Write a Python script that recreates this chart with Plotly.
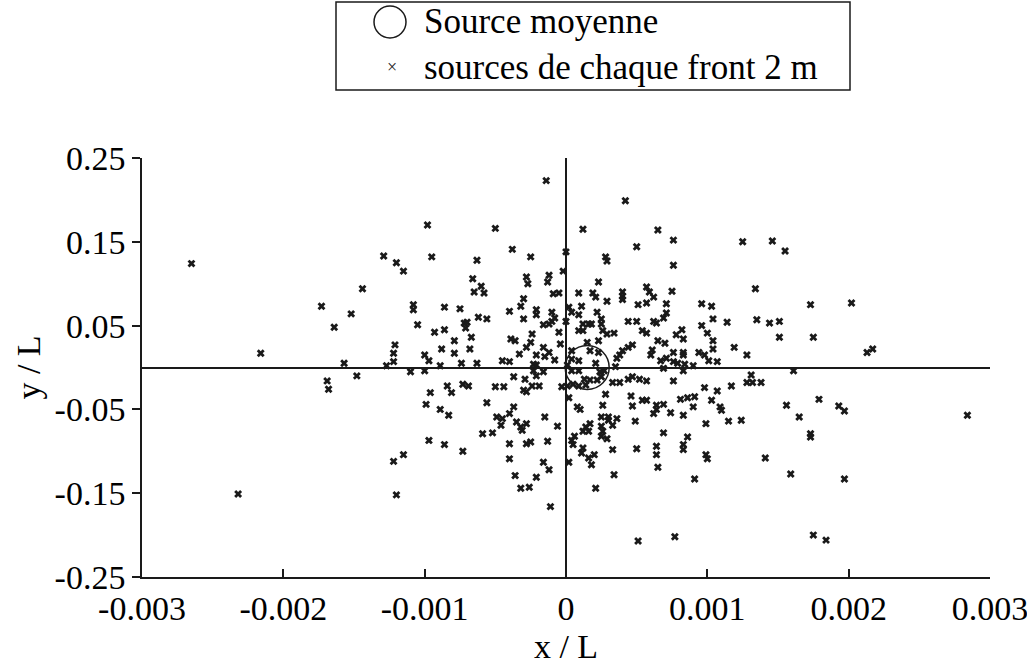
import plotly.graph_objects as go

# Individual source positions (x/L, y/L)
src_x = [
    -0.00265, -0.00173, -0.00152, -0.00164, -0.00216, -0.00157, -0.00169, -0.00168, -0.00232,
    -0.00014, -0.00098, -0.00050, -0.00038, -0.00129, -0.00120, -0.00115, -0.00095, -0.00063,
    -0.00025, -0.00144, -0.00066, -0.00060, -0.00065, -0.00058, -0.00028, -0.00027, -0.00012,
    -0.00013, -0.00009, -0.00005, -0.00002,
    0.00042, 0.00012, 0.00065, 0.00076, 0.00050, 0.00125, 0.00146, 0.00000, 0.00028, 0.00029,
    0.00076, 0.00023, 0.00009, 0.00019, 0.00040, 0.00057, 0.00059, 0.00075, 0.00134, 0.00155,
    0.00284, 0.00173, 0.00202, 0.00151, 0.00151, 0.00175, 0.00213, 0.00217, 0.00161, 0.00179,
    0.00156, 0.00193, 0.00197, 0.00165, 0.00173,
    -0.00030, -0.00108, -0.00108, -0.00086, -0.00075, -0.00032, -0.00040, -0.00021, -0.00021,
    -0.00010, -0.00030, -0.00062, -0.00056, -0.00072, -0.00070, -0.00071, -0.00010, -0.00008,
    -0.00012, -0.00016, -0.00105, -0.00093, -0.00086, -0.00005, -0.00024, -0.00067, -0.00039,
    -0.00036, -0.00079, -0.00025, -0.00121, -0.00028, -0.00016, -0.00004, -0.00088, -0.00068,
    -0.00122, -0.00079, -0.00033, -0.00021, -0.00012, -0.00015, -0.00100, -0.00097, -0.00008,
    -0.00122, -0.00074, -0.00063, -0.00045, -0.00040, -0.00023, -0.00021, -0.00127, -0.00089,
    -0.00148, -0.00110, -0.00100, -0.00023, -0.00016, -0.00021, -0.00037, -0.00029, -0.00003,
    -0.00084, -0.00073, -0.00069, -0.00050, -0.00044, -0.00024, -0.00019, -0.00030, -0.00028,
    -0.00096, -0.00081, -0.00056, -0.00099, -0.00037, -0.00089, -0.00083, -0.00040, -0.00049,
    -0.00045, -0.00046, -0.00015, -0.00035, -0.00032, -0.00028, -0.00031, -0.00006, -0.00059,
    -0.00052,
    -0.00097, -0.00086, -0.00073, -0.00115, -0.00122, -0.00040, -0.00028, -0.00025, -0.00013,
    -0.00040, -0.00016, -0.00012, -0.00036, -0.00021, -0.00032, -0.00026, -0.00120, -0.00011,
    0.00012, 0.00016, 0.00026, 0.00004, 0.00006, 0.00005, 0.00025, 0.00029, 0.00069, 0.00086,
    0.00012, 0.00011, 0.00016, 0.00020, 0.00002, 0.00033, 0.00050, 0.00064, 0.00064, 0.00083,
    0.00083, 0.00099, 0.00100, 0.00141, 0.00018, 0.00065, 0.00034, 0.00091, 0.00021, 0.00051,
    0.00077,
    0.00173, 0.00159, 0.00197, 0.00175, 0.00184,
    0.00021, 0.00040, 0.00040, 0.00062, 0.00029, 0.00051, 0.00057, 0.00071, 0.00096, 0.00103,
    0.00002, 0.00004, 0.00011, 0.00009, 0.00022, 0.00000, 0.00012, 0.00016, 0.00018, 0.00025,
    0.00025, 0.00044, 0.00050, 0.00062, 0.00064, 0.00069, 0.00071, 0.00104, 0.00114, 0.00135,
    0.00144, 0.00009, 0.00012, 0.00026, 0.00029, 0.00034, 0.00054, 0.00057, 0.00082, 0.00078,
    0.00096, 0.00100, 0.00083, 0.00104, 0.00015, 0.00023, 0.00065, 0.00070, 0.00004, 0.00017,
    0.00023, 0.00044, 0.00047, 0.00040, 0.00038, 0.00036, 0.00061, 0.00060, 0.00076, 0.00083,
    0.00083, 0.00094, 0.00098, 0.00104, 0.00119, 0.00128, 0.00004, 0.00001, 0.00009, 0.00021,
    0.00067, 0.00071, 0.00076, 0.00079, 0.00084, 0.00069, 0.00090, 0.00101, 0.00107, 0.00035,
    0.00004, 0.00009, 0.00024, 0.00027, 0.00083, 0.00001, 0.00005, 0.00013, 0.00017, 0.00022,
    0.00025, 0.00014, 0.00009, 0.00033, 0.00038, 0.00044, 0.00047, 0.00052, 0.00057, 0.00076,
    0.00131, 0.00128, 0.00132, 0.00138, 0.00117, 0.00098, 0.00107, 0.00028, 0.00046, 0.00054,
    0.00057, 0.00081, 0.00086, 0.00091, 0.00103, 0.00002, 0.00026, 0.00047, 0.00064, 0.00069,
    0.00064, 0.00062, 0.00090, 0.00109, 0.00110, 0.00008, 0.00010, 0.00074, 0.00083, 0.00025,
    0.00030, 0.00030, 0.00036, 0.00049, 0.00099, 0.00115, 0.00124, 0.00017, 0.00014, 0.00025,
    0.00033,
]
src_y = [
    0.124, 0.073, 0.064, 0.048, 0.017, 0.005, -0.016, -0.026, -0.151,
    0.223, 0.170, 0.166, 0.141, 0.133, 0.125, 0.115, 0.132, 0.128,
    0.132, 0.094, 0.106, 0.097, 0.090, 0.089, 0.108, 0.100, 0.110,
    0.102, 0.088, 0.089, 0.115,
    0.199, 0.165, 0.164, 0.152, 0.144, 0.150, 0.151, 0.138, 0.132, 0.127,
    0.122, 0.102, 0.089, 0.089, 0.090, 0.096, 0.090, 0.091, 0.094, 0.139,
    -0.057, 0.075, 0.077, 0.055, 0.036, 0.036, 0.018, 0.022, -0.004, -0.038,
    -0.045, -0.046, -0.052, -0.059, -0.079,
    0.082, 0.075, 0.069, 0.072, 0.070, 0.073, 0.067, 0.069, 0.063,
    0.066, 0.058, 0.060, 0.058, 0.053, 0.054, 0.047, 0.055, 0.059,
    0.052, 0.051, 0.051, 0.042, 0.045, 0.042, 0.040, 0.036, 0.034,
    0.032, 0.032, 0.030, 0.027, 0.024, 0.024, 0.028, 0.022, 0.022,
    0.017, 0.017, 0.016, 0.015, 0.018, 0.013, 0.015, 0.008, 0.009,
    0.007, 0.005, 0.005, 0.008, 0.007, 0.004, 0.003, 0.002, 0.002,
    -0.010, -0.005, -0.004, -0.004, -0.005, -0.010, -0.011, -0.014, -0.023,
    -0.022, -0.020, -0.022, -0.023, -0.023, -0.022, -0.022, -0.027, -0.029,
    -0.030, -0.030, -0.042, -0.044, -0.047, -0.050, -0.057, -0.055, -0.059,
    -0.061, -0.069, -0.059, -0.065, -0.071, -0.067, -0.075, -0.070, -0.079,
    -0.078,
    -0.087, -0.092, -0.100, -0.104, -0.112, -0.091, -0.091, -0.089, -0.088,
    -0.109, -0.113, -0.122, -0.129, -0.131, -0.144, -0.143, -0.152, -0.166,
    -0.076, -0.076, -0.076, -0.087, -0.082, -0.092, -0.082, -0.085, -0.078, -0.083,
    -0.096, -0.102, -0.108, -0.104, -0.113, -0.098, -0.097, -0.094, -0.104, -0.092,
    -0.098, -0.104, -0.109, -0.108, -0.116, -0.119, -0.128, -0.133, -0.144, -0.207,
    -0.202,
    -0.083, -0.127, -0.133, -0.200, -0.206,
    0.084, 0.085, 0.081, 0.084, 0.079, 0.075, 0.077, 0.076, 0.076, 0.073,
    0.072, 0.066, 0.073, 0.063, 0.066, 0.055, 0.052, 0.052, 0.052, 0.058,
    0.052, 0.055, 0.055, 0.055, 0.053, 0.059, 0.065, 0.058, 0.054, 0.057,
    0.053, 0.044, 0.044, 0.044, 0.040, 0.041, 0.044, 0.041, 0.045, 0.039,
    0.050, 0.041, 0.034, 0.032, 0.030, 0.032, 0.032, 0.029, 0.020, 0.020,
    0.018, 0.024, 0.027, 0.020, 0.015, 0.011, 0.021, 0.015, 0.018, 0.018,
    0.015, 0.018, 0.015, 0.022, 0.024, 0.015, 0.010, 0.003, 0.008, 0.005,
    0.008, 0.011, 0.007, 0.005, 0.004, -0.001, 0.002, 0.008, 0.007, 0.001,
    -0.004, -0.004, -0.005, -0.004, -0.004, -0.022, -0.020, -0.014, -0.015, -0.015,
    -0.011, -0.021, -0.022, -0.018, -0.018, -0.014, -0.011, -0.014, -0.016, -0.016,
    -0.009, -0.018, -0.018, -0.018, -0.022, -0.024, -0.028, -0.032, -0.034, -0.039,
    -0.039, -0.038, -0.036, -0.035, -0.039, -0.036, -0.045, -0.046, -0.045, -0.044,
    -0.050, -0.055, -0.047, -0.047, -0.051, -0.047, -0.050, -0.054, -0.057, -0.059,
    -0.059, -0.063, -0.061, -0.064, -0.067, -0.064, -0.063, -0.067, -0.071, -0.070,
    -0.069,
]

# Mean source position
mean_x = [0.00015]
mean_y = [0.0]

x_ticks = [-0.003, -0.002, -0.001, 0, 0.001, 0.002, 0.003]
x_ticktext = ["-0.003", "-0.002", "-0.001", "0", "0.001", "0.002", "0.003"]
y_ticks = [0.25, 0.15, 0.05, -0.05, -0.15, -0.25]
y_ticktext = ["0.25", "0.15", "0.05", "-0.05", "-0.15", "-0.25"]

legend_labels = ["Source moyenne", "sources de chaque front 2 m"]

FONT = "Liberation Serif, Times New Roman, serif"
INK = "#1a1a1a"

fig = go.Figure()
fig.add_trace(go.Scatter(
    x=src_x, y=src_y, mode="markers", name=legend_labels[1],
    marker=dict(symbol="x", size=7, color=INK, line=dict(width=0)),
    showlegend=False,
))
fig.add_trace(go.Scatter(
    x=mean_x, y=mean_y, mode="markers", name=legend_labels[0],
    marker=dict(symbol="circle-open", size=44, color=INK, line=dict(width=1.5, color=INK)),
    showlegend=False,
))

axis_common = dict(
    showgrid=False, showline=True, linecolor=INK, linewidth=1.5,
    zeroline=True, zerolinecolor=INK, zerolinewidth=1.5,
    ticklen=8, tickwidth=1.5, tickcolor=INK,
    tickfont=dict(family=FONT, size=34, color="black"),
    mirror=False, automargin=False, ticklabeloverflow="allow",
)

fig.update_xaxes(range=[-0.003, 0.003], tickvals=x_ticks, ticktext=x_ticktext,
                 ticks="inside",
                 title=dict(text="x / L", font=dict(family=FONT, size=34, color="black"), standoff=12),
                 **axis_common)
fig.update_yaxes(range=[-0.25, 0.25], tickvals=y_ticks, ticktext=y_ticktext,
                 ticks="outside",
                 title=dict(text="y / L", font=dict(family=FONT, size=34, color="black"), standoff=4),
                 **axis_common)

# Hand-drawn legend box (paper coords relative to plot area)
W, H, L, B = 848.0, 419.0, 142.0, 88.0
def px_x(p):
    return (p - L) / W
def px_y(p):
    return (665 - B - p) / H

shapes = [
    dict(type="rect", xref="paper", yref="paper",
         x0=px_x(336), x1=px_x(850), y0=px_y(90), y1=px_y(2),
         line=dict(color=INK, width=1.5), fillcolor="white"),
    dict(type="circle", xref="paper", yref="paper",
         xsizemode="pixel", ysizemode="pixel",
         xanchor=px_x(390), yanchor=px_y(22), x0=-16, x1=16, y0=-16, y1=16,
         line=dict(color=INK, width=1.5)),
]
fig.update_layout(shapes=shapes)
fig.add_annotation(xref="paper", yref="paper", x=px_x(392), y=px_y(67),
                   text="×", showarrow=False, font=dict(family=FONT, size=18, color=INK),
                   xanchor="center", yanchor="middle")
fig.add_annotation(xref="paper", yref="paper", x=px_x(422), y=px_y(22),
                   text=legend_labels[0], showarrow=False,
                   font=dict(family=FONT, size=35, color="black"),
                   xanchor="left", yanchor="middle")
fig.add_annotation(xref="paper", yref="paper", x=px_x(422), y=px_y(67),
                   text=legend_labels[1], showarrow=False,
                   font=dict(family=FONT, size=35, color="black"),
                   xanchor="left", yanchor="middle")

fig.update_layout(
    width=1027, height=665,
    margin=dict(l=142, r=37, t=158, b=88),
    paper_bgcolor="white", plot_bgcolor="white",
    showlegend=False,
)

fig.write_html("out.html")
